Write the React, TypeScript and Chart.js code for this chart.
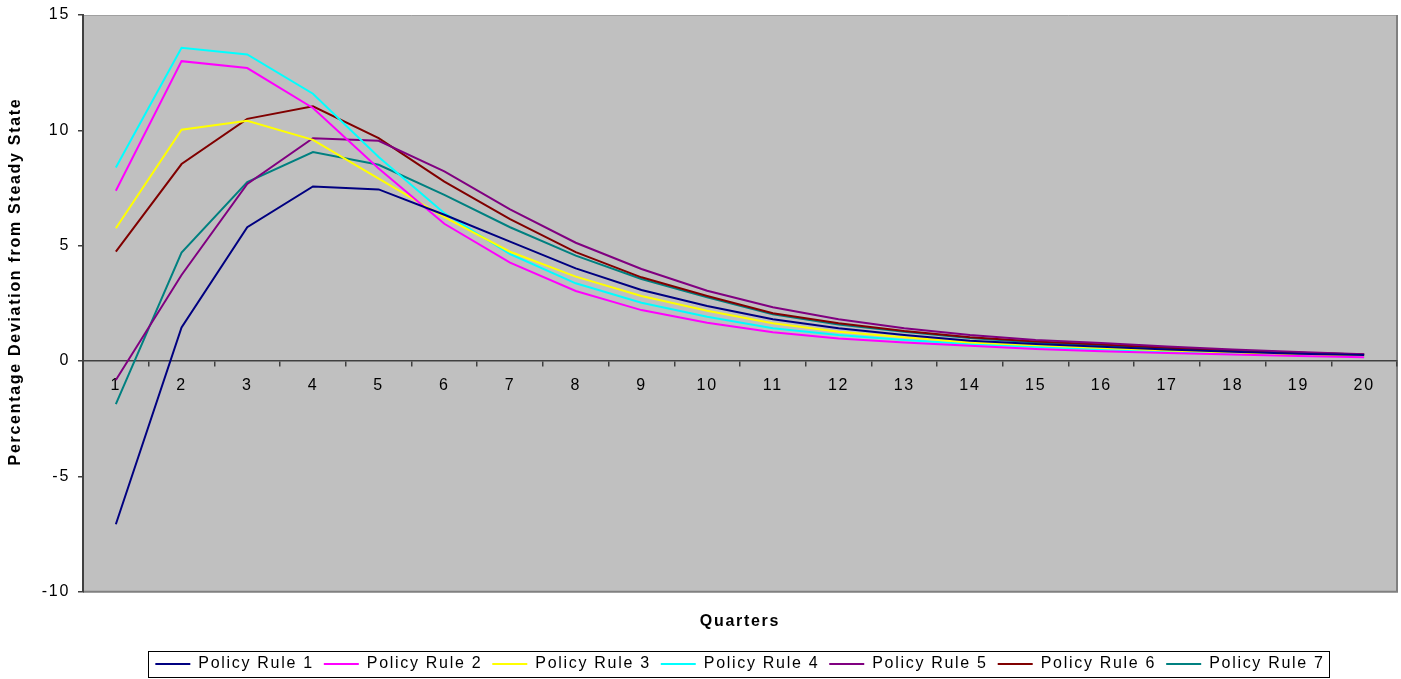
import { useEffect, useRef } from 'react';
import { Chart, registerables } from 'chart.js';

Chart.register(...registerables);

const quarters = ['1', '2', '3', '4', '5', '6', '7', '8', '9', '10', '11', '12', '13', '14', '15', '16', '17', '18', '19', '20'];
const yTickValues = [-10, -5, 0, 5, 10, 15];
const xTitle = 'Quarters';
const yTitle = 'Percentage Deviation from Steady State';

const rule1 = [-7.07, 1.46, 5.8, 7.57, 7.44, 6.34, 5.18, 4.02, 3.08, 2.39, 1.81, 1.42, 1.13, 0.88, 0.74, 0.62, 0.5, 0.4, 0.32, 0.26];
const rule2 = [7.38, 13.0, 12.7, 10.97, 8.35, 5.95, 4.27, 3.04, 2.21, 1.66, 1.25, 0.98, 0.81, 0.66, 0.52, 0.43, 0.35, 0.28, 0.22, 0.17];
const rule3 = [5.76, 10.03, 10.42, 9.59, 7.91, 6.24, 4.74, 3.66, 2.82, 2.18, 1.64, 1.27, 1.03, 0.81, 0.69, 0.57, 0.46, 0.37, 0.29, 0.23];
const rule4 = [8.39, 13.58, 13.29, 11.59, 8.85, 6.41, 4.64, 3.37, 2.53, 1.92, 1.42, 1.13, 0.91, 0.74, 0.62, 0.51, 0.41, 0.33, 0.26, 0.2];
const rule5 = [-0.82, 3.73, 7.68, 9.66, 9.55, 8.22, 6.58, 5.13, 3.99, 3.05, 2.33, 1.81, 1.42, 1.13, 0.91, 0.78, 0.63, 0.5, 0.39, 0.3];
const rule6 = [4.74, 8.54, 10.5, 11.04, 9.66, 7.78, 6.15, 4.72, 3.63, 2.82, 2.07, 1.64, 1.3, 1.03, 0.85, 0.72, 0.58, 0.46, 0.36, 0.28];
const rule7 = [-1.87, 4.7, 7.76, 9.06, 8.51, 7.2, 5.8, 4.57, 3.56, 2.76, 2.03, 1.59, 1.27, 1.0, 0.81, 0.69, 0.56, 0.45, 0.36, 0.29];

const seriesNames = ['Policy Rule 1', 'Policy Rule 2', 'Policy Rule 3', 'Policy Rule 4', 'Policy Rule 5', 'Policy Rule 6', 'Policy Rule 7'];
const seriesValues = [rule1, rule2, rule3, rule4, rule5, rule6, rule7];
const seriesColors = ['#000080', '#FF00FF', '#FFFF00', '#00FFFF', '#800080', '#800000', '#008080'];

const SPACING = '1.7px';
const FONT_FAMILY = '"Liberation Sans", Arial, sans-serif';

const spacingPlugin = {
  id: 'letterSpacing',
  beforeInit(chart: any) { chart.ctx.letterSpacing = SPACING; },
  beforeUpdate(chart: any) { chart.ctx.letterSpacing = SPACING; },
  beforeLayout(chart: any) { chart.ctx.letterSpacing = SPACING; },
  beforeDraw(chart: any) { chart.ctx.letterSpacing = SPACING; },
};

const plotAreaPlugin = {
  id: 'plotArea',
  beforeDraw(chart: any) {
    const { ctx, chartArea } = chart;
    const { left, top, right, bottom } = chartArea;
    ctx.save();
    ctx.fillStyle = '#C0C0C0';
    ctx.fillRect(left, top, right - left, bottom - top);
    ctx.strokeStyle = '#A0A0A0';
    ctx.lineWidth = 1;
    ctx.beginPath();
    ctx.moveTo(left, top + 0.5);
    ctx.lineTo(right, top + 0.5);
    ctx.stroke();
    ctx.strokeStyle = '#808080';
    ctx.lineWidth = 2;
    ctx.beginPath();
    ctx.moveTo(right, top);
    ctx.lineTo(right, bottom);
    ctx.lineTo(left, bottom);
    ctx.stroke();
    ctx.restore();
  },
};

// Draws the rotated y-axis title (real canvas text), centred where the reference puts it.
const yTitlePlugin = {
  id: 'yTitle',
  afterDraw(chart: any) {
    const { ctx, chartArea } = chart;
    const cy = chartArea.top + (chartArea.bottom - chartArea.top) * 0.462;
    ctx.save();
    ctx.letterSpacing = SPACING;
    ctx.translate(16, cy);
    ctx.rotate(-Math.PI / 2);
    ctx.font = `bold 16px ${FONT_FAMILY}`;
    ctx.fillStyle = '#000000';
    ctx.textAlign = 'center';
    ctx.textBaseline = 'middle';
    ctx.fillText(yTitle, 0, 0);
    ctx.restore();
  },
};

const legendBoxPlugin = {
  id: 'legendBox',
  afterDraw(chart: any) {
    const legend = chart.legend;
    if (!legend || !legend.legendHitBoxes || !legend.legendHitBoxes.length) return;
    const boxes = legend.legendHitBoxes;
    const first = boxes[0];
    const last = boxes[boxes.length - 1];
    const cy = first.top + first.height / 2;
    const x0 = first.left - 7;
    const x1 = last.left + last.width + 5;
    const { ctx } = chart;
    ctx.save();
    ctx.strokeStyle = '#000000';
    ctx.lineWidth = 1;
    ctx.strokeRect(Math.round(x0) + 0.5, Math.round(cy - 13) + 0.5, Math.round(x1 - x0), 26);
    ctx.restore();
  },
};

export default function App() {
  const canvasRef = useRef<HTMLCanvasElement | null>(null);

  useEffect(() => {
    const canvas = canvasRef.current;
    if (!canvas) return;
    Chart.defaults.font.family = FONT_FAMILY;
    Chart.defaults.color = '#000000';

    const chart = new Chart(canvas, {
      type: 'line',
      data: {
        labels: quarters,
        datasets: seriesValues.map((values, i) => ({
          label: seriesNames[i],
          data: values,
          borderColor: seriesColors[i],
          backgroundColor: seriesColors[i],
          borderWidth: 2,
          pointRadius: 0,
          pointHoverRadius: 0,
          tension: 0,
          fill: false,
          xAxisID: 'x',
          yAxisID: 'y',
        })),
      },
      options: {
        responsive: false,
        animation: false,
        devicePixelRatio: 1,
        layout: { padding: { left: 0, right: 4, top: 15, bottom: -3 } },
        plugins: {
          tooltip: { enabled: false },
          legend: {
            position: 'bottom',
            fullSize: false,
            labels: {
              usePointStyle: true,
              pointStyle: 'line',
              pointStyleWidth: 35,
              padding: 10,
              color: '#000000',
              font: { size: 16 },
            },
          },
        },
        scales: {
          x: {
            type: 'category',
            position: { y: 0 },
            offset: true,
            grid: {
              offset: true,
              drawOnChartArea: false,
              drawTicks: true,
              tickLength: 5,
              color: '#404040',
              lineWidth: 1.5,
            },
            border: { display: true, color: '#404040', width: 1.5 },
            ticks: {
              color: '#000000',
              font: { size: 16 },
              padding: 10,
              maxRotation: 0,
              autoSkip: false,
            },
          },
          x2: {
            type: 'category',
            position: 'bottom',
            offset: true,
            grid: { display: false, drawTicks: false },
            border: { display: false },
            ticks: { display: false },
            title: {
              display: true,
              text: xTitle,
              color: '#000000',
              font: { size: 16, weight: 'bold' },
              padding: { top: 20, bottom: 15 },
            },
          },
          y: {
            type: 'linear',
            position: 'left',
            min: -10,
            max: 15,
            afterBuildTicks: (scale: any) => {
              scale.ticks = yTickValues.map((v) => ({ value: v }));
            },
            afterFit: (scale: any) => {
              scale.width = 83;
              scale.paddingTop = 0;
              scale.paddingBottom = 0;
            },
            grid: {
              drawOnChartArea: false,
              drawTicks: true,
              tickLength: 5,
              color: '#404040',
              lineWidth: 1.5,
            },
            border: { display: true, color: '#404040', width: 2 },
            ticks: {
              color: '#000000',
              font: { size: 16 },
              padding: 8,
            },
            title: { display: false },
          },
        },
      },
      plugins: [spacingPlugin, plotAreaPlugin, yTitlePlugin, legendBoxPlugin],
    } as any);

    return () => {
      chart.destroy();
    };
  }, []);

  return (
    <div style={{ position: 'absolute', left: 0, top: 0, width: 1401, height: 679, background: '#ffffff' }}>
      <canvas ref={canvasRef} width={1401} height={679} style={{ display: 'block', width: 1401, height: 679 }} />
    </div>
  );
}
